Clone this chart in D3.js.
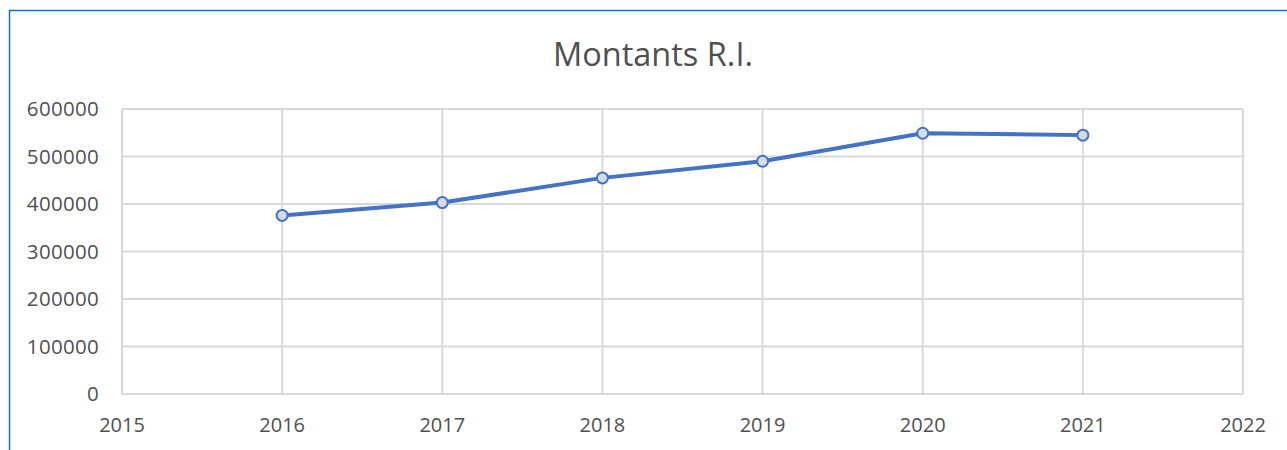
<!DOCTYPE html>
<html><head><meta charset="utf-8">
<script src="https://cdn.jsdelivr.net/npm/d3@7"></script>
<style>body{margin:0;background:#fff;} svg{display:block;}</style>
</head><body>
<script>
const title = "Montants R.I.";
const years = [2016, 2017, 2018, 2019, 2020, 2021];
const values = [376000, 403000, 455000, 490000, 549000, 545000];
const xTicks = [2015, 2016, 2017, 2018, 2019, 2020, 2021, 2022];
const yTicks = [0, 100000, 200000, 300000, 400000, 500000, 600000];

(function () {
const W = 1287, H = 450;
const svg = d3.select("body").append("svg").attr("width", W).attr("height", H);
svg.append("rect").attr("x", 9.5).attr("y", 10.5).attr("width", W).attr("height", H)
  .attr("fill", "#fff").attr("stroke", "#0A73D0").attr("stroke-width", 1.5);

const mL = 122, mR = 1243, mT = 109, mB = 394;
const x = d3.scaleLinear().domain([2015, 2022]).range([mL, mR]);
const y = d3.scaleLinear().domain([0, 600000]).range([mB, mT]);
const font = "'Open Sans', 'Noto Sans', sans-serif";

svg.append("text").attr("x", 653).attr("y", 66).attr("text-anchor", "middle")
  .attr("font-family", font).attr("font-size", 32.5).attr("fill", "#505050").text(title);

const g = svg.append("g");
g.selectAll(".hg").data(yTicks).join("line")
  .attr("x1", mL).attr("x2", mR).attr("y1", d => y(d)).attr("y2", d => y(d))
  .attr("stroke", "#D9D9D9").attr("stroke-width", 2);
g.selectAll(".vg").data(xTicks).join("line")
  .attr("y1", mT).attr("y2", mB).attr("x1", d => x(d)).attr("x2", d => x(d))
  .attr("stroke", "#D9D9D9").attr("stroke-width", 2);

svg.selectAll(".yl").data(yTicks).join("text")
  .attr("x", 99).attr("y", d => y(d)).attr("dy", "0.36em").attr("text-anchor", "end")
  .attr("font-family", font).attr("font-size", 20.5).attr("letter-spacing", 0.3).attr("fill", "#505050").text(d => d);
svg.selectAll(".xl").data(xTicks).join("text")
  .attr("x", d => x(d)).attr("y", 432).attr("text-anchor", "middle")
  .attr("font-family", font).attr("font-size", 20).attr("fill", "#505050").text(d => d);

const pts = years.map((d, i) => [d, values[i]]);
svg.append("path").datum(pts)
  .attr("d", d3.line().x(d => x(d[0])).y(d => y(d[1])))
  .attr("fill", "none").attr("stroke", "#4472C4").attr("stroke-width", 4).attr("stroke-linejoin", "round");
svg.selectAll(".pt").data(pts).join("circle")
  .attr("cx", d => x(d[0])).attr("cy", d => y(d[1])).attr("r", 5.5)
  .attr("fill", "#D6DCE5").attr("stroke", "#4472C4").attr("stroke-width", 2);
})();
</script>
</body></html>
